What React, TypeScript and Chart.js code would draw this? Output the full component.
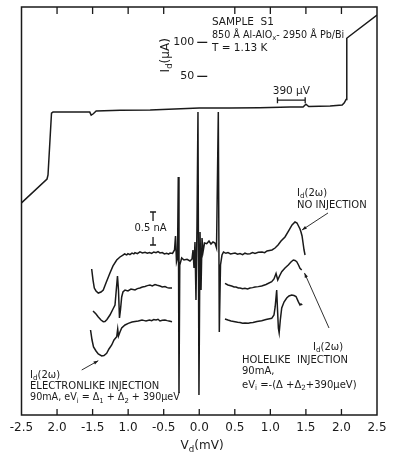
import React, { useEffect, useRef } from "react";
import { Chart, registerables } from "chart.js";

Chart.register(...registerables);

// ---------- DATA ----------
// x tick labels as printed on the figure (bottom axis)
const xTickLabels = ["-2.5", "2.0", "-1.5", "1.0", "-0.5", "0.0", "0.5", "1.0", "1.5", "2.0", "2.5"];
const innerYTicks = [50, 100]; // I_d (μA)

// I-V curve: V_d (mV) vs I_d (μA)
const ivV = [-2.5, -2.141, -2.127, -2.078, -2.057, -1.82, -1.54, -1.52, -1.49, -1.45, -1.11, -0.69, 0, 0.43, 0.85, 1.28, 1.46, 1.5, 1.54, 1.84, 2.01, 2.04, 2.065, 2.075, 2.11, 2.5];
const ivI = [-136, -101, -95, -4, -2.5, -2.5, -2.5, -7, -5, -1, 0, 0.4, 3.4, 3.4, 4, 5, 5, 9, 5.6, 6.3, 7.8, 11, 16, 106, 109, 140];

// I_d(2ω) no injection (nA, offset trace)
const noInjV = [-1.513, -1.494, -1.476, -1.452, -1.42, -1.382, -1.35, -1.312, -1.256, -1.213, -1.161, -1.115, -1.073, -1.05, -1.02, -1.003, -0.975, -0.946, -0.92, -0.904, -0.87, -0.834, -0.8, -0.763, -0.73, -0.7, -0.669, -0.64, -0.608, -0.58, -0.552, -0.52, -0.49, -0.458, -0.43, -0.411, -0.376, -0.348, -0.334, -0.32, -0.306, -0.295, -0.285, -0.274, -0.247, -0.215, -0.172, -0.13, -0.102, -0.088, -0.074, -0.06, -0.046, -0.032, -0.018, -0.004, 0.011, 0.025, 0.039, 0.053, 0.074, 0.105, 0.137, 0.165, 0.193, 0.221, 0.243, 0.268, 0.282, 0.299, 0.32, 0.341, 0.375, 0.404, 0.44, 0.503, 0.54, 0.573, 0.61, 0.643, 0.68, 0.714, 0.75, 0.784, 0.83, 0.883, 0.92, 0.953, 1.023, 1.066, 1.108, 1.15, 1.206, 1.263, 1.305, 1.347, 1.375, 1.389, 1.417, 1.431, 1.446, 1.46, 1.474, 1.488];
const noInjN = [2.212, 2.045, 1.924, 1.879, 1.848, 1.864, 1.894, 2.0, 2.152, 2.258, 2.348, 2.394, 2.424, 2.44, 2.425, 2.445, 2.43, 2.452, 2.44, 2.46, 2.445, 2.472, 2.455, 2.465, 2.45, 2.462, 2.448, 2.47, 2.458, 2.475, 2.455, 2.462, 2.44, 2.45, 2.438, 2.455, 2.448, 2.5, 2.712, 2.318, 2.379, 3.606, 0.333, 2.273, 2.379, 2.348, 2.358, 2.333, 2.364, 2.5, 2.227, 2.621, 1.742, 2.864, 4.591, 0.303, 2.773, 1.894, 2.682, 2.47, 2.606, 2.596, 2.636, 2.591, 2.621, 2.606, 2.53, 4.591, 1.258, 2.273, 2.424, 2.47, 2.45, 2.462, 2.44, 2.455, 2.435, 2.445, 2.43, 2.452, 2.438, 2.444, 2.46, 2.448, 2.465, 2.47, 2.46, 2.485, 2.5, 2.53, 2.576, 2.636, 2.697, 2.803, 2.879, 2.924, 2.909, 2.879, 2.818, 2.773, 2.712, 2.606, 2.5, 2.424];

// I_d(2ω) holelike injection (middle trace), two branches
const holeLeftV = [-1.494, -1.452, -1.42, -1.382, -1.35, -1.326, -1.298, -1.256, -1.213, -1.185, -1.167, -1.15, -1.136, -1.122, -1.108, -1.091, -1.073, -1.044, -1.003, -0.96, -0.904, -0.87, -0.834, -0.8, -0.763, -0.73, -0.693, -0.66, -0.622, -0.59, -0.552, -0.52, -0.482, -0.45, -0.425, -0.383];
const holeLeftN = [1.576, 1.53, 1.485, 1.439, 1.414, 1.417, 1.447, 1.515, 1.606, 1.667, 1.894, 2.106, 1.894, 1.47, 1.591, 1.788, 1.864, 1.894, 1.88, 1.909, 1.894, 1.915, 1.924, 1.94, 1.947, 1.96, 1.97, 1.955, 1.975, 1.965, 1.955, 1.94, 1.947, 1.93, 1.924, 1.924];
const holeRightV = [0.362, 0.404, 0.456, 0.49, 0.517, 0.55, 0.573, 0.61, 0.643, 0.68, 0.714, 0.75, 0.784, 0.83, 0.878, 0.939, 1.019, 1.051, 1.08, 1.104, 1.129, 1.16, 1.206, 1.252, 1.29, 1.323, 1.347, 1.371, 1.396, 1.417, 1.441];
const holeRightN = [1.995, 1.97, 1.955, 1.94, 1.939, 1.925, 1.924, 1.912, 1.92, 1.91, 1.924, 1.93, 1.939, 1.945, 1.955, 1.977, 2.02, 2.061, 2.144, 2.045, 2.106, 2.171, 2.227, 2.273, 2.318, 2.348, 2.341, 2.323, 2.273, 2.223, 2.197];

// I_d(2ω) electronlike injection (bottom trace), two branches
const elecLeftV = [-1.529, -1.508, -1.487, -1.452, -1.42, -1.372, -1.34, -1.302, -1.27, -1.231, -1.199, -1.161, -1.147, -1.136, -1.115, -1.091, -1.044, -0.998, -0.946, -0.904, -0.857, -0.805, -0.77, -0.749, -0.7, -0.669, -0.64, -0.608, -0.58, -0.552, -0.52, -0.482, -0.45, -0.425, -0.383];
const elecLeftN = [1.288, 1.136, 1.03, 0.97, 0.924, 0.894, 0.902, 0.935, 1.0, 1.061, 1.136, 1.186, 1.303, 1.197, 1.258, 1.318, 1.364, 1.389, 1.409, 1.417, 1.424, 1.439, 1.43, 1.424, 1.44, 1.429, 1.445, 1.439, 1.45, 1.424, 1.435, 1.439, 1.43, 1.424, 1.414];
const elecRightV = [0.362, 0.404, 0.447, 0.503, 0.54, 0.573, 0.61, 0.643, 0.69, 0.72, 0.756, 0.812, 0.878, 0.939, 1.019, 1.051, 1.068, 1.089, 1.101, 1.113, 1.124, 1.14, 1.16, 1.192, 1.23, 1.262, 1.3, 1.333, 1.361, 1.393, 1.417, 1.431, 1.449];
const elecRightN = [1.455, 1.439, 1.424, 1.414, 1.405, 1.402, 1.39, 1.394, 1.389, 1.398, 1.402, 1.417, 1.429, 1.447, 1.465, 1.515, 1.641, 1.894, 1.591, 1.314, 1.242, 1.439, 1.621, 1.712, 1.773, 1.803, 1.818, 1.811, 1.795, 1.717, 1.667, 1.682, 1.667];

// ---------- helpers ----------
type Part = { t: string; sub?: boolean };
const INK = "#1a1a1a";
const FONT = "DejaVu Sans";

function richWidth(ctx: CanvasRenderingContext2D, parts: Part[], size: number) {
  let w = 0;
  for (const p of parts) {
    ctx.font = `${p.sub ? size * 0.72 : size}px "${FONT}"`;
    w += ctx.measureText(p.t).width;
  }
  return w;
}
function drawRich(ctx: CanvasRenderingContext2D, parts: Part[], x: number, y: number, size: number, align: "left" | "center" | "right" = "left") {
  const w = richWidth(ctx, parts, size);
  let cx = align === "left" ? x : align === "center" ? x - w / 2 : x - w;
  ctx.textBaseline = "middle";
  ctx.textAlign = "left";
  for (const p of parts) {
    ctx.font = `${p.sub ? size * 0.72 : size}px "${FONT}"`;
    ctx.fillText(p.t, cx, p.sub ? y + size * 0.3 : y);
    cx += ctx.measureText(p.t).width;
  }
}
function arrow(ctx: CanvasRenderingContext2D, x1: number, y1: number, x2: number, y2: number) {
  ctx.beginPath();
  ctx.moveTo(x1, y1);
  ctx.lineTo(x2, y2);
  ctx.stroke();
  const a = Math.atan2(y2 - y1, x2 - x1);
  const L = 5;
  ctx.beginPath();
  ctx.moveTo(x2, y2);
  ctx.lineTo(x2 - L * Math.cos(a - 0.35), y2 - L * Math.sin(a - 0.35));
  ctx.lineTo(x2 - L * Math.cos(a + 0.35), y2 - L * Math.sin(a + 0.35));
  ctx.closePath();
  ctx.fill();
}

const Id2w: Part[] = [{ t: "I" }, { t: "d", sub: true }, { t: "(2ω)" }];

const decorPlugin = {
  id: "decor",
  afterDraw(chart: any) {
    const ctx: CanvasRenderingContext2D = chart.ctx;
    const { left, right, top, bottom } = chart.chartArea;
    const xs = chart.scales.x;
    const ys = chart.scales.y;
    const y2 = chart.scales.y2;
    const X = (v: number) => xs.getPixelForValue(v);
    const Y = (v: number) => ys.getPixelForValue(v);
    const N = (v: number) => y2.getPixelForValue(v);
    ctx.save();
    ctx.strokeStyle = INK;
    ctx.fillStyle = INK;
    // frame
    ctx.lineWidth = 1.5;
    ctx.strokeRect(left, top, right - left, bottom - top);
    // inward ticks
    ctx.lineWidth = 1.3;
    for (let v = -2; v <= 2.001; v += 0.5) {
      const px = X(v);
      ctx.beginPath();
      ctx.moveTo(px, bottom);
      ctx.lineTo(px, bottom - 6);
      if (Math.abs(v) > 0.01) {
        ctx.moveTo(px, top);
        ctx.lineTo(px, top + 7);
      }
      ctx.stroke();
    }
    // inner I_d axis at V = 0
    const x0 = X(0);
    for (const t of innerYTicks) {
      const py = Y(t);
      ctx.beginPath();
      ctx.moveTo(x0 - 2, py);
      ctx.lineTo(x0 + 8, py);
      ctx.stroke();
      drawRich(ctx, [{ t: String(t) }], x0 - 5, py, 11, "right");
    }
    ctx.save();
    ctx.translate(X(-0.466), Y(81));
    ctx.rotate(-Math.PI / 2);
    drawRich(ctx, [{ t: "I" }, { t: "d", sub: true }, { t: "(μA)" }], 0, 0, 12, "center");
    ctx.restore();

    // sample text block
    drawRich(ctx, [{ t: "SAMPLE  S1" }], X(0.179), Y(129), 10.5);
    drawRich(ctx, [{ t: "850 Å Al-AlO" }, { t: "x", sub: true }, { t: "- 2950 Å Pb/Bi" }], X(0.179), Y(110.5), 9.6);
    drawRich(ctx, [{ t: "T = 1.13 K" }], X(0.179), Y(91.5), 10.5);

    // 390 μV bar
    const b1 = X(1.1), b2 = X(1.49), by = Y(15);
    ctx.beginPath();
    ctx.moveTo(b1, by); ctx.lineTo(b2, by);
    ctx.moveTo(b1, by - 3); ctx.lineTo(b1, by + 3);
    ctx.moveTo(b2, by - 3); ctx.lineTo(b2, by + 3);
    ctx.stroke();
    drawRich(ctx, [{ t: "390 μV" }], (b1 + b2) / 2, Y(28.5), 10.5, "center");

    // 0.5 nA bar
    const sx = X(-0.65);
    const sTop = N(3.076), sBot = N(2.576);
    ctx.beginPath();
    ctx.moveTo(sx - 3, sTop); ctx.lineTo(sx + 3, sTop);
    ctx.moveTo(sx, sTop); ctx.lineTo(sx, sTop + 9);
    ctx.moveTo(sx, sBot - 8); ctx.lineTo(sx, sBot);
    ctx.moveTo(sx - 3, sBot); ctx.lineTo(sx + 3, sBot);
    ctx.stroke();
    drawRich(ctx, [{ t: "0.5 nA" }], X(-0.685), N(2.833), 10, "center");

    // no injection label
    drawRich(ctx, Id2w, X(1.375), N(3.364), 10);
    drawRich(ctx, [{ t: "NO INJECTION" }], X(1.375), N(3.182), 10);
    ctx.lineWidth = 0.9;
    arrow(ctx, X(1.811), N(3.061), X(1.445), N(2.803));

    // electronlike label
    drawRich(ctx, Id2w, X(-2.38), N(0.606), 10);
    drawRich(ctx, [{ t: "ELECTRONLIKE INJECTION" }], X(-2.38), N(0.439), 10);
    drawRich(ctx, [{ t: "90mA, eV" }, { t: "i", sub: true }, { t: " = Δ" }, { t: "1", sub: true }, { t: " + Δ" }, { t: "2", sub: true }, { t: " + 390μeV" }], X(-2.38), N(0.258), 9.6);
    arrow(ctx, X(-1.653), N(0.682), X(-1.42), N(0.823));

    // holelike label
    drawRich(ctx, Id2w, X(1.6), N(1.03), 10);
    drawRich(ctx, [{ t: "HOLELIKE  INJECTION" }], X(0.601), N(0.833), 10);
    drawRich(ctx, [{ t: "90mA," }], X(0.601), N(0.667), 10);
    drawRich(ctx, [{ t: "eV" }, { t: "i", sub: true }, { t: " =-(Δ +Δ" }, { t: "2", sub: true }, { t: "+390μeV)" }], X(0.601), N(0.455), 10);
    arrow(ctx, X(1.825), N(1.318), X(1.48), N(2.152));

    // x title
    drawRich(ctx, [{ t: "V" }, { t: "d", sub: true }, { t: "(mV)" }], X(0.04), bottom + 31, 12, "center");
    ctx.restore();
  },
};

function pts(xs: number[], ys: number[]) {
  return xs.map((x, i) => ({ x, y: ys[i] }));
}

export default function App() {
  const ref = useRef<HTMLCanvasElement | null>(null);
  useEffect(() => {
    document.body.style.margin = "0";
    const canvas = ref.current!;
    const line = { borderColor: INK, borderWidth: 1.5, pointRadius: 0, tension: 0, fill: false };
    const chart = new Chart(canvas, {
      type: "line",
      data: {
        datasets: [
          { ...line, label: "I-V", data: pts(ivV, ivI), yAxisID: "y" },
          { ...line, label: "no injection", data: pts(noInjV, noInjN), yAxisID: "y2" },
          { ...line, label: "holelike L", data: pts(holeLeftV, holeLeftN), yAxisID: "y2" },
          { ...line, label: "holelike R", data: pts(holeRightV, holeRightN), yAxisID: "y2" },
          { ...line, label: "electronlike L", data: pts(elecLeftV, elecLeftN), yAxisID: "y2" },
          { ...line, label: "electronlike R", data: pts(elecRightV, elecRightN), yAxisID: "y2" },
        ] as any,
      },
      options: {
        responsive: false,
        animation: false,
        events: [],
        layout: { padding: { left: 21.5, right: 23, top: 7, bottom: 0 } },
        plugins: { legend: { display: false }, tooltip: { enabled: false }, title: { display: false } },
        scales: {
          x: {
            type: "linear",
            min: -2.5,
            max: 2.5,
            grid: { display: false, drawTicks: false },
            border: { display: false },
            ticks: {
              stepSize: 0.5,
              autoSkip: false,
              maxRotation: 0,
              padding: 6,
              color: INK,
              font: { family: FONT, size: 12 },
              callback: (_v: any, i: number) => xTickLabels[i],
            },
            afterFit: (s: any) => { s.height = 46; },
          },
          y: { type: "linear", min: -448, max: 152, display: false },
          y2: { type: "linear", min: 0, max: 6.1818, display: false },
        },
      } as any,
      plugins: [decorPlugin],
    });
    return () => chart.destroy();
  }, []);
  return (
    <div style={{ width: 400, height: 461, background: "#fff" }}>
      <canvas ref={ref} width={400} height={461} style={{ display: "block" }} />
    </div>
  );
}
